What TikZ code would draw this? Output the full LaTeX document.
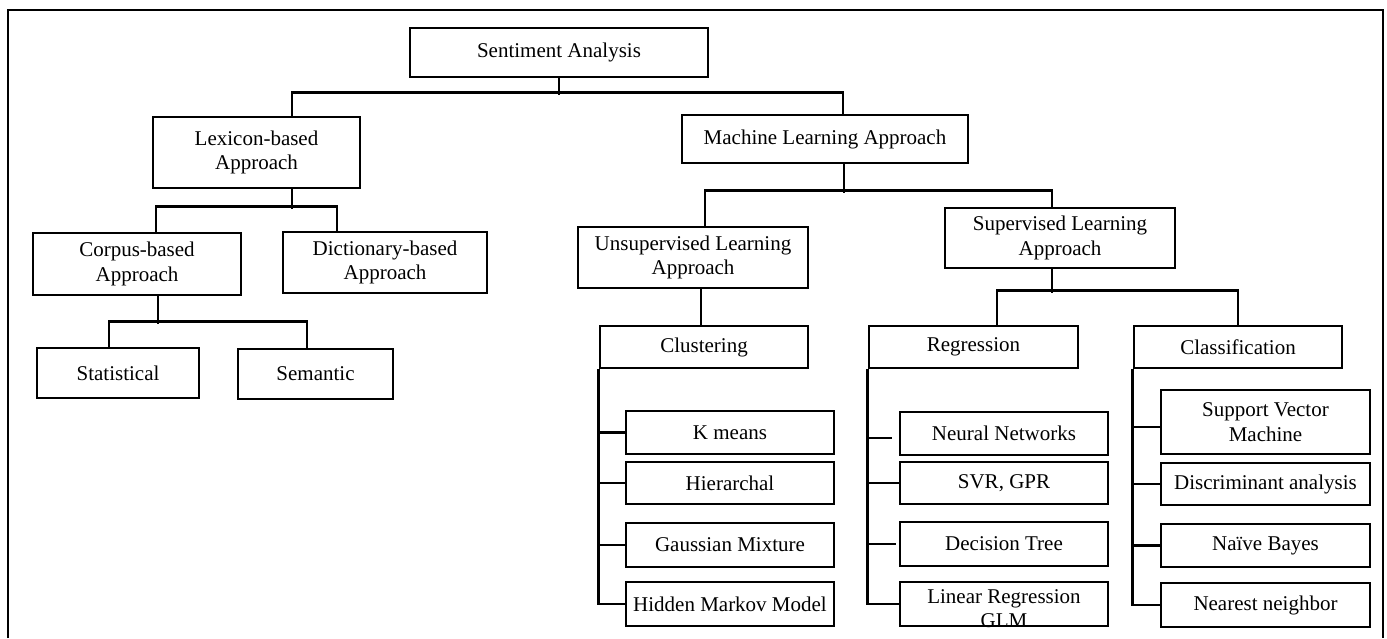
\documentclass[tikz,border=0pt]{standalone}
\usepackage{fontspec}
\setmainfont{Liberation Serif}
\begin{document}
\begin{tikzpicture}[x=1pt,y=-1pt,
  box/.style={draw, line width=2.8pt, inner sep=0pt, align=center, font=\fontsize{21}{24.5}\selectfont},
  conn/.style={line width=2.8pt},
  frame/.style={line width=2pt},
  txt/.style={inner sep=0pt, font=\fontsize{21}{24.5}\selectfont}]
\useasboundingbox (0,0) rectangle (1387,638);
\draw[frame] (8,638) -- (8,10) -- (1383,10) -- (1383,638);
% level 0-1
\node[box, minimum width=298, minimum height=49] (sa) at (559,52.5) {Sentiment Analysis};
\node[box, minimum width=207, minimum height=71] (lex) at (256.5,152.5) {Lexicon-based\\Approach};
\node[box, minimum width=286, minimum height=48] (ml) at (825,139) {Machine Learning Approach};
% lexicon branch
\node[box, minimum width=208, minimum height=62] (corp) at (137,264) {Corpus-based\\Approach};
\node[box, minimum width=204, minimum height=61] (dict) at (385,262.5) {Dictionary-based\\Approach};
\node[box, minimum width=162, minimum height=50] (stat) at (118,373) {Statistical};
\node[box, minimum width=155, minimum height=50] (sem) at (315.5,374) {Semantic};
% ML branch
\node[box, minimum width=230, minimum height=61] (unsup) at (693,257.5) {Unsupervised Learning\\Approach};
\node[box, minimum width=230, minimum height=60] (sup) at (1060,238) {Supervised Learning\\Approach};
\node[box, minimum width=208, minimum height=42] (clus) at (704,347) {Clustering};
\node[box, minimum width=209, minimum height=42] (reg) at (973.5,347) {Regression};
\node[box, minimum width=208, minimum height=42] (cls) at (1238,347) {Classification};
% clustering items
\node[box, minimum width=208, minimum height=43] (km) at (730,432.5) {K means};
\node[box, minimum width=208, minimum height=42] (hier) at (730,483) {Hierarchal};
\node[box, minimum width=208, minimum height=44] (gm) at (730,545) {Gaussian Mixture};
\node[box, minimum width=208, minimum height=44] (hmm) at (730,604) {Hidden Markov Model};
% regression items
\node[box, minimum width=208, minimum height=43] (nn) at (1004,433.5) {Neural Networks};
\node[box, minimum width=208, minimum height=42] (svr) at (1004,483) {SVR, GPR};
\node[box, minimum width=208, minimum height=44] (dt) at (1004,544) {Decision Tree};
\node[box, minimum width=208, minimum height=44] (lr) at (1004,604) {};
\begin{scope}
  \clip (lr.south west) rectangle (lr.north east);
  \node[txt, anchor=base] (lr1) at (1004,603) {Linear Regression};
  \node[txt, anchor=base] (lr2) at (1004,627.5) {GLM};
\end{scope}
% classification items
\node[box, minimum width=209, minimum height=64] (svm) at (1265.5,422) {Support Vector\\Machine};
\node[box, minimum width=209, minimum height=42] (da) at (1265.5,484) {Discriminant analysis};
\node[box, minimum width=209, minimum height=43] (nb) at (1265.5,545.5) {Naïve Bayes};
\node[box, minimum width=209, minimum height=44] (nnb) at (1265.5,605) {Nearest neighbor};
% connectors: top
\draw[conn] (sa.south) -- ++(0,17);
\draw[conn] ([xshift=35.5]lex.north) -- ++(0,-23) -| ([xshift=18]ml.north);
% lexicon
\draw[conn] ([xshift=35.5]lex.south) -- ++(0,20);
\draw[conn] ([xshift=19]corp.north) -- ++(0,-25) -| ([xshift=-48]dict.north);
\draw[conn] ([xshift=21]corp.south) -- ++(0,28);
\draw[conn] ([xshift=-9]stat.north) -- ++(0,-25) -| ([xshift=-8.5]sem.north);
% ML
\draw[conn] ([xshift=19]ml.south) -- ++(0,29);
\draw[conn] ([xshift=12]unsup.north) -- ++(0,-35) -| ([xshift=-8]sup.north);
\draw[conn] ([xshift=8]unsup.south) -- ([xshift=-3]clus.north);
\draw[conn] ([xshift=-8]sup.south) -- ++(0,24);
\draw[conn] ([xshift=23.5]reg.north) -- ++(0,-34) -| (cls.north);
% clustering list
\draw[conn] (clus.south west) |- (hmm.west);
\draw[conn] (km.west) -- (km.west -| clus.south west);
\draw[conn] (hier.west) -- (hier.west -| clus.south west);
\draw[conn] (gm.west) -- (gm.west -| clus.south west);
% regression list
\draw[conn] (reg.south west) |- (lr.west);
\draw[conn, shorten <=7pt] ([yshift=-4.5pt]nn.west) -- ([yshift=-4.5pt]nn.west -| reg.south west);
\draw[conn] (svr.west) -- (svr.west -| reg.south west);
\draw[conn, shorten <=3pt] (dt.west) -- (dt.west -| reg.south west);
% classification list
\draw[conn] (cls.south west) |- (nnb.west);
\draw[conn] ([yshift=-5pt]svm.west) -- ([yshift=-5pt]svm.west -| cls.south west);
\draw[conn] (da.west) -- (da.west -| cls.south west);
\draw[conn] (nb.west) -- (nb.west -| cls.south west);
\end{tikzpicture}
\end{document}
